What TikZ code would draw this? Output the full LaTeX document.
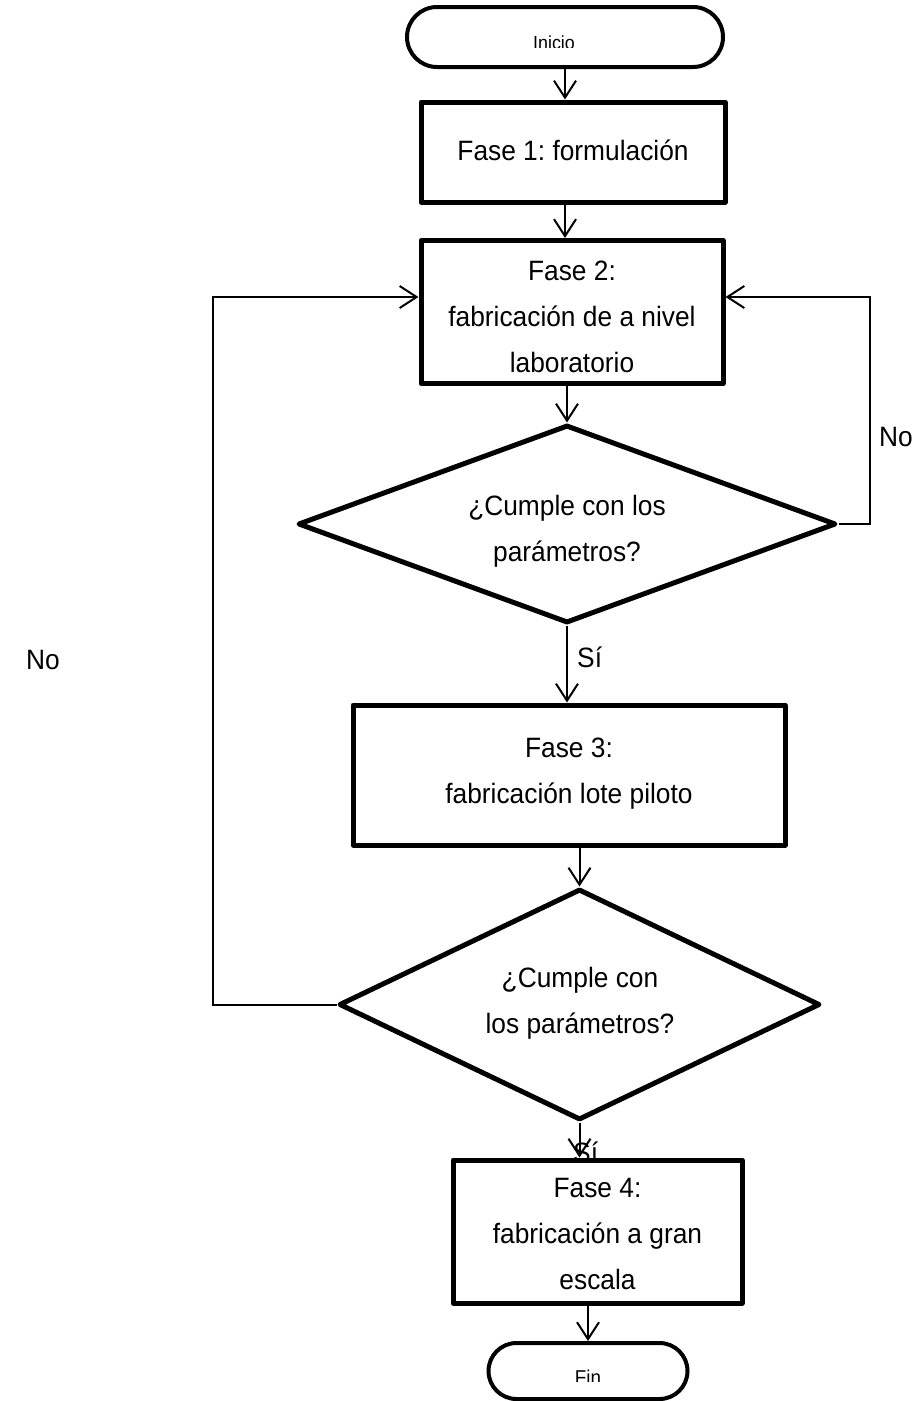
\documentclass[tikz,border=0pt]{standalone}
\usepackage{fontspec}
\setmainfont{Liberation Sans}[FakeStretch=0.94]
\usetikzlibrary{shapes.geometric,arrows.meta}
\frenchspacing
\begin{document}
\begin{tikzpicture}[x=1pt,y=-1pt,
  txt/.style={font=\fontsize{28}{46}\selectfont, align=center, inner sep=0pt},
  tag/.style={font=\fontsize{28}{30}\selectfont, inner sep=0pt},
  stepbox/.style={draw, line width=5pt, fill=white, line join=round, inner sep=0pt},
  decision/.style={draw, shape=diamond, line width=5pt, line join=round, inner sep=0pt, fill=white},
  terminal/.style={draw, line width=4pt, inner sep=0pt},
  flow/.style={line width=2pt, -{Straight Barb[length=17pt,width=22pt,line width=2pt]}},
]
\useasboundingbox (0,0) rectangle (916,1401);

% start terminal
\node[terminal, rounded corners=30pt, minimum width=316pt, minimum height=60pt] (ini) at (565,37) {};
\begin{scope}
  \clip (400,0) rectangle (730,47);
  \node[font=\fontsize{19}{20}\selectfont, anchor=base, inner sep=0pt] (initxt) at (554,49) {Inicio};
\end{scope}

% process steps and decisions
\node[stepbox, minimum width=304pt, minimum height=100pt] (f1) at (573,152) {};
\node[txt] (f1t) at (573,150) {Fase 1: formulación};

\node[stepbox, minimum width=302pt, minimum height=143pt] (f2) at (572,312) {};
\node[txt] (f2t) at (572,316.5) {Fase 2:\\fabricación de a nivel\\laboratorio};

\node[decision, aspect=2.7, minimum width=538pt, minimum height=198pt] (d1) at (567,524) {};
\node[txt] (d1t) at (567,531) {¿Cumple con los\\parámetros?};

\node[stepbox, minimum width=432pt, minimum height=140pt] (f3) at (569,775) {};
\node[txt] (f3t) at (569,774) {Fase 3:\\fabricación lote piloto};

\node[decision, aspect=2.08, minimum width=481pt, minimum height=231pt] (d2) at (579.5,1004.5) {};
\node[txt] (d2t) at (580,1003) {¿Cumple con\\los parámetros?};

% branch labels
\node[tag, anchor=base west] (si1) at (577,667) {Sí};
\node[tag, anchor=base west] (si2) at (573,1162) {Sí};
\node[tag] (no1) at (896,437) {No};
\node[tag] (no2) at (43,660) {No};

% last step covers the lower part of the second "Sí"
\node[stepbox, minimum width=289pt, minimum height=143pt] (f4) at (597.5,1231.5) {};
\node[txt] (f4t) at (597.5,1234) {Fase 4:\\fabricación a gran\\escala};

% end terminal
\node[terminal, rounded corners=28pt, minimum width=199pt, minimum height=56pt] (fin) at (588,1371) {};
\begin{scope}
  \clip (480,1340) rectangle (700,1381);
  \node[font=\fontsize{20}{22}\selectfont, anchor=base, inner sep=0pt] (fintxt) at (588,1384) {Fin};
\end{scope}

% loop-back corners
\coordinate (r1) at (870,297);
\coordinate (l1) at (213,297);

% connectors
\draw[flow] (ini.south) -- (ini.south |- f1.north);
\draw[flow] (f1.south -| ini.south) -- (f2.north -| ini.south);
\draw[flow] (f2.south -| d1.north) -- (d1.north);
\draw[flow] (d1.south) -- (d1.south |- f3.north);
\draw[flow] (f3.south -| d2.north) -- (d2.north);
\draw[flow] (d2.south) -- (d2.south |- f4.north);
\draw[flow] (f4.south -| fin.north) -- (fin.north);
\draw[flow] (d1.east) -| (r1) -- (r1 -| f2.east);
\draw[flow] (d2.west) -| (l1) -- (l1 -| f2.west);
\end{tikzpicture}
\end{document}
